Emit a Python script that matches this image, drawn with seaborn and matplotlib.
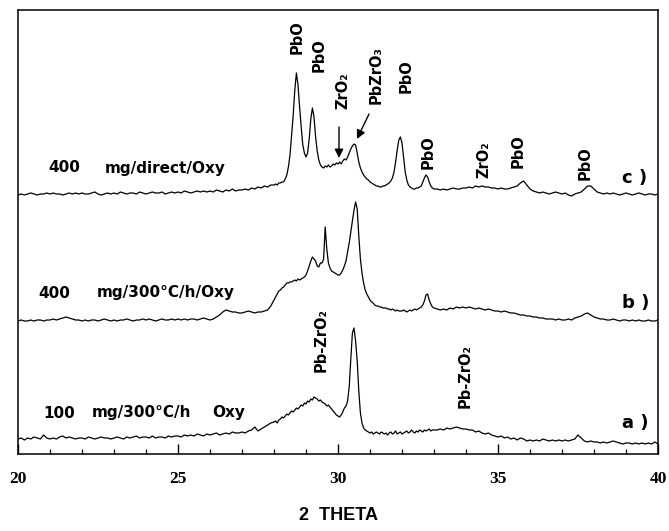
import numpy as np
import pandas as pd
import matplotlib
matplotlib.use("Agg")
import matplotlib.pyplot as plt
import seaborn as sns

# ---------------- data ----------------
# 2-theta sampling: 20.0-27.9 (0.1 step), 28.00-33.00 (0.05 step), 33.1-40.0 (0.1 step)
theta_seg1 = np.round(np.arange(20.0, 27.95, 0.1), 2)
theta_seg2 = np.round(np.arange(28.0, 33.025, 0.05), 2)
theta_seg3 = np.round(np.arange(33.1, 40.05, 0.1), 2)

# c) 400 mg/direct/Oxy  (intensity above own baseline, a.u.)
c_seg1 = [0, 1, 0, 1, 2, 1, 0, 1, 1, 2,
          1, 2, 1, 1, 0, 1, 2, 1, 2, 1,
          2, 1, 1, 2, 3, 1, 0, 1, 2, 1,
          2, 1, 3, 2, 1, 2, 2, 1, 3, 2,
          1, 2, 3, 2, 2, 3, 1, 2, 3, 2,
          3, 2, 4, 3, 2, 3, 4, 3, 4, 3,
          4, 3, 5, 4, 3, 5, 4, 6, 4, 5,
          5, 6, 5, 7, 6, 8, 7, 9, 8, 10]
c_seg2 = [10, 11, 10, 12, 12, 13, 13, 16, 20, 28,
          40, 60, 80, 105, 122, 110, 88, 68, 50, 42,
          38, 42, 56, 76, 87, 78, 58, 44, 35, 30,
          28, 27, 29, 28, 30, 28, 29, 31, 30, 32,
          31, 33, 31, 34, 36, 35, 38, 42, 46, 49,
          51, 50, 42, 33, 27, 23, 20, 18, 16, 15,
          13, 12, 11, 10, 9, 9, 8, 8, 9, 9,
          10, 11, 12, 14, 17, 23, 33, 45, 55, 58,
          52, 37, 23, 15, 10, 8, 7, 6, 6, 7,
          7, 8, 9, 13, 17, 20, 18, 13, 9, 7,
          6]
c_seg3 = [6, 5, 6, 5, 6, 7, 6, 6, 7, 7,
          8, 7, 9, 8, 9, 8, 8, 7, 7, 6,
          7, 6, 6, 7, 8, 9, 12, 14, 10, 6,
          4, 3, 2, 3, 2, 1, 2, 3, 2, 1,
          2, 0, -1, 1, 2, 3, 6, 9, 9, 6,
          3, 2, 1, 2, 1, 2, 1, 0, 1, 2,
          1, 0, 1, 2, 1, 0, 1, 1, 0, 1]

# b) 400 mg/300°C/h/Oxy
b_seg1 = [0, 1, 0, 0, 1, 0, 1, 1, 0, 1,
          1, 2, 1, 2, 3, 4, 3, 2, 1, 1,
          0, 1, 0, 1, 1, 0, 1, 2, 1, 0,
          1, 0, 1, 1, 2, 1, 0, 1, 1, 2,
          1, 2, 1, 0, 1, 2, 1, 1, 2, 1,
          2, 1, 2, 1, 2, 2, 1, 2, 3, 2,
          1, 2, 4, 6, 9, 11, 10, 9, 9, 8,
          8, 9, 10, 9, 8, 9, 9, 10, 11, 15]
b_seg2 = [21, 24, 27, 30, 31, 33, 34, 36, 38, 38,
          39, 39, 40, 41, 40, 42, 41, 42, 43, 44,
          46, 50, 55, 60, 64, 62, 60, 55, 54, 58,
          58, 62, 94, 72, 58, 53, 50, 49, 48, 47,
          46, 46, 48, 51, 55, 60, 69, 78, 89, 100,
          111, 119, 112, 85, 62, 48, 38, 31, 27, 24,
          21, 19, 18, 16, 15, 15, 14, 14, 13, 13,
          13, 12, 12, 11, 12, 11, 10, 11, 10, 10,
          10, 11, 10, 9, 10, 11, 10, 11, 12, 11,
          12, 13, 14, 16, 20, 26, 27, 21, 17, 14,
          13]
b_seg3 = [12, 11, 12, 11, 13, 12, 14, 13, 14, 13,
          14, 13, 12, 13, 12, 11, 12, 11, 10, 10,
          9, 10, 9, 8, 8, 7, 6, 6, 5, 5,
          4, 4, 3, 3, 2, 2, 2, 1, 2, 1,
          1, 2, 1, 3, 4, 5, 7, 8, 6, 4,
          3, 2, 2, 1, 1, 2, 1, 0, 1, 1,
          0, 1, 0, 1, 0, 0, 1, 0, 0, 1]

# a) 100 mg/300°C/h Oxy
a_seg1 = [0, 1, -1, 1, 0, 2, 1, 0, 4, 1,
          0, 1, 0, 2, 3, 1, 2, 1, 0, 1,
          1, 0, 2, 1, 0, 1, 2, 1, 1, 0,
          1, 2, 1, 0, 2, 1, 2, 3, 1, 2,
          2, 1, 3, 1, 2, 2, 1, 3, 2, 3,
          3, 2, 4, 3, 4, 3, 5, 4, 3, 5,
          4, 5, 6, 4, 5, 6, 5, 7, 6, 6,
          7, 6, 8, 9, 12, 8, 10, 12, 14, 16]
a_seg2 = [17, 18, 16, 19, 20, 22, 21, 23, 25, 24,
          26, 28, 27, 29, 31, 30, 32, 34, 33, 36,
          35, 38, 37, 40, 39, 42, 41, 40, 38, 39,
          37, 36, 35, 33, 34, 32, 30, 28, 26, 24,
          23, 22, 24, 27, 31, 33, 38, 52, 80, 106,
          111, 98, 78, 48, 26, 16, 11, 9, 8, 7,
          6, 7, 5, 6, 7, 6, 5, 7, 6, 5,
          6, 4, 6, 7, 5, 6, 8, 5, 6, 7,
          5, 6, 7, 8, 6, 7, 9, 7, 6, 8,
          7, 9, 8, 7, 9, 8, 9, 10, 8, 9,
          9]
a_seg3 = [9, 10, 9, 11, 10, 11, 12, 11, 10, 10,
          9, 9, 7, 8, 6, 5, 6, 4, 3, 2,
          3, 1, 2, 0, 1, -1, 1, 0, -2, -1,
          -2, -1, -2, 0, -1, -2, -1, -2, -1, -2,
          -1, -2, -1, 0, 4, 1, -2, -3, -2, -3,
          -3, -4, -3, -4, -3, -2, -3, -4, -5, -4,
          -4, -5, -4, -5, -4, -5, -4, -5, -3, -5]

series_names = ["a", "b", "c"]
series_offsets = [15, 133, 259]   # vertical stacking of the patterns

theta = np.concatenate([theta_seg1, theta_seg2, theta_seg3])
curves = {
    "a": np.array(a_seg1 + a_seg2 + a_seg3, dtype=float),
    "b": np.array(b_seg1 + b_seg2 + b_seg3, dtype=float),
    "c": np.array(c_seg1 + c_seg2 + c_seg3, dtype=float),
}
for k in curves:
    assert len(curves[k]) == len(theta), (k, len(curves[k]), len(theta))

frames = []
for name, off in zip(series_names, series_offsets):
    frames.append(pd.DataFrame({"theta": theta, "intensity": curves[name] + off,
                                "sample": name}))
df = pd.concat(frames, ignore_index=True)

# ---------------- figure ----------------
sns.set_style("white")
plt.rcParams["font.family"] = ["DejaVu Sans"]
plt.rcParams["text.color"] = "black"

fig = plt.figure(figsize=(6.69, 5.31), dpi=100)
ax = fig.add_axes([18 / 669, 1 - 454 / 531, 640 / 669, 444 / 531])

for name in series_names:
    sub = df[df["sample"] == name]
    sns.lineplot(data=sub, x="theta", y="intensity", ax=ax, color="black",
                 lw=0.9, estimator=None, sort=False, legend=False)

ax.set_xlim(20, 40)
ax.set_ylim(0, 444)
ax.set_xlabel("")
ax.set_ylabel("")
ax.set_yticks([])
ax.set_xticks([20, 25, 30, 35, 40])
ax.set_xticks(np.arange(20, 41, 1), minor=True)
ax.tick_params(axis="x", which="both", bottom=True, top=False)
ax.tick_params(axis="x", which="major", direction="in", length=7, width=1,
               pad=12, colors="black")
ax.tick_params(axis="x", which="minor", direction="in", length=3.5, width=0.9,
               colors="black")
for lab in ax.get_xticklabels():
    lab.set_fontfamily("Liberation Serif")
    lab.set_fontweight("bold")
    lab.set_fontsize(12.5)
    lab.set_color("black")
for sp in ax.spines.values():
    sp.set_visible(True)
    sp.set_color("black")
    sp.set_linewidth(1.1)

fig.text(338 / 669, 1 - 515 / 531, "2  THETA", ha="center", va="center",
         fontsize=13, fontweight="bold", family="Liberation Sans", color="black")

def py2y(py):
    return 454 - py

def px2x(px):
    return 20 + (px - 18) / 32

lab_kw = dict(fontsize=11, fontweight="bold", va="center", ha="left",
              color="black")
# sample descriptions
ax.text(px2x(48), py2y(168), "400", **lab_kw)
ax.text(px2x(105), py2y(168), "mg/direct/Oxy", **lab_kw)
ax.text(px2x(38), py2y(293), "400", **lab_kw)
ax.text(px2x(97), py2y(293), "mg/300°C/h/Oxy", **lab_kw)
ax.text(px2x(43), py2y(413), "100", **lab_kw)
ax.text(px2x(92), py2y(413), "mg/300°C/h", **lab_kw)
ax.text(px2x(212), py2y(413), "Oxy", **lab_kw)

# pattern letters
for txt, py in [("c )", 178), ("b )", 303), ("a )", 423)]:
    ax.text(px2x(622), py2y(py), txt, fontsize=13, fontweight="bold",
            ha="left", va="center", color="black")

# phase labels (rotated)
peak_labels = [
    ("PbO", 297, 37), ("PbO", 319, 55), ("ZrO₂", 343, 91),
    ("PbZrO₃", 376, 75), ("PbO", 406, 76), ("PbO", 428, 152),
    ("ZrO₂", 484, 160), ("PbO", 518, 151), ("PbO", 585, 163),
    ("Pb-ZrO₂", 321, 340), ("Pb-ZrO₂", 465, 376),
]
for txt, px, py in peak_labels:
    ax.text(px2x(px), py2y(py), txt, rotation=90, fontsize=10.5,
            fontweight="bold", ha="center", va="center", color="black")

arrow_kw = dict(arrowstyle="-|>", color="black", lw=1.0, mutation_scale=13,
                shrinkA=0, shrinkB=0)
ax.annotate("", xy=(px2x(339), py2y(158)), xytext=(px2x(339), py2y(127)),
            arrowprops=arrow_kw)
ax.annotate("", xy=(px2x(357), py2y(139)), xytext=(px2x(369), py2y(114)),
            arrowprops=arrow_kw)

fig.savefig("out.png", dpi=100, facecolor="white")
